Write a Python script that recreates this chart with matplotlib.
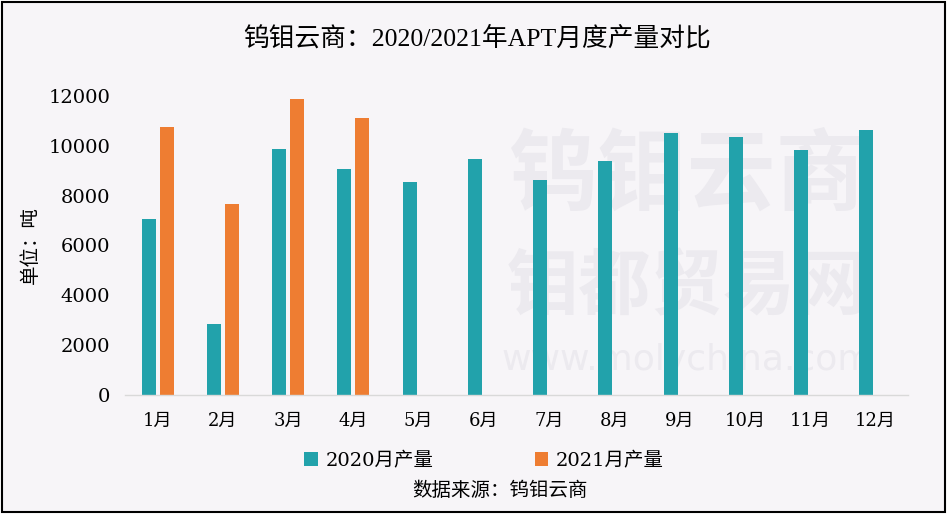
import matplotlib
matplotlib.use("Agg")
import matplotlib.pyplot as plt
import numpy as np
from matplotlib.patches import Rectangle

months = ["1月", "2月", "3月", "4月", "5月", "6月", "7月", "8月", "9月", "10月", "11月", "12月"]
prod_2020 = [7060, 2850, 9870, 9070, 8550, 9470, 8630, 9390, 10510, 10350, 9830, 10630]
prod_2021 = [10750, 7660, 11880, 11110]
yticks = [0, 2000, 4000, 6000, 8000, 10000, 12000]
title = "钨钼云商：2020/2021年APT月度产量对比"
ylabel = "单位：吨"
legend_labels = ["2020月产量", "2021月产量"]
source = "数据来源：钨钼云商"

TEAL = "#22A2AB"
ORANGE = "#EE7D32"
BG = "#F7F5F8"
SERIF = ["DejaVu Serif", "Noto Sans CJK SC", "DejaVu Sans"]
TSERIF = ["Liberation Serif", "Noto Sans CJK SC", "DejaVu Sans"]
CJK = ["Noto Sans CJK SC", "DejaVu Sans"]

fig = plt.figure(figsize=(9.47, 5.24), dpi=100)
fig.patch.set_facecolor("white")
# background panel with black border
bgrect = Rectangle((2/947, 1 - 512/524), 943/947, 510/524, transform=fig.transFigure,
                   facecolor=BG, edgecolor="black", linewidth=1.5, zorder=-10)
fig.patches.append(bgrect)

ax = fig.add_axes([125/947, 1 - 395/524, (908 - 125)/947, (395 - 96)/524])
ax.set_facecolor("none")
ax.set_zorder(1)

# watermark (inside the axes, behind the bars)
wm_color = "#ECEAEF"
ax.text(687/947, 1 - 178/524, "钨钼云商", ha="center", va="center", fontsize=64,
        family=CJK, fontweight="bold", color=wm_color, zorder=0.5,
        transform=fig.transFigure, clip_on=False)
ax.text(687/947, 1 - 288/524, "钼都贸易网", ha="center", va="center", fontsize=52,
        family=CJK, fontweight="bold", color=wm_color, zorder=0.5,
        transform=fig.transFigure, clip_on=False)
ax.text(687/947, 1 - 360/524, "www.molychina.com", ha="center", va="center", fontsize=26,
        family=["DejaVu Sans"], color=wm_color, zorder=0.5,
        transform=fig.transFigure, clip_on=False)

x = np.arange(len(months))
w = 0.215
off = 0.138
ax.bar(x - off, prod_2020, width=w, color=TEAL, label=legend_labels[0], zorder=2)
ax.bar(x[:len(prod_2021)] + off, prod_2021, width=w, color=ORANGE, label=legend_labels[1], zorder=2)

ax.set_xlim(-0.5, len(months) - 0.5)
ax.set_ylim(0, 12000)
ax.set_yticks(yticks)
ax.set_yticklabels([str(v) for v in yticks], family=SERIF, fontsize=14)
ax.set_xticks(x)
ax.set_xticklabels(months, family=SERIF, fontsize=13)
ax.tick_params(axis="both", length=0)
ax.tick_params(axis="y", pad=10.5)
ax.tick_params(axis="x", pad=12)
for s in ["top", "right", "left"]:
    ax.spines[s].set_visible(False)
ax.spines["bottom"].set_color("#D9D9D9")
ax.spines["bottom"].set_linewidth(1)

fig.text(477/947, 1 - 38/524, title, ha="center", va="center", fontsize=18.5, family=TSERIF)
fig.text(30/947, 1 - 245/524, ylabel, ha="center", va="center", rotation=90, fontsize=14, family=CJK)

leg = fig.legend(loc="center", bbox_to_anchor=(484/947, 1 - 461/524), ncol=2, frameon=False,
                 prop={"family": SERIF, "size": 14}, handlelength=0.7, handleheight=0.7,
                 columnspacing=5.2, handletextpad=0.4)
fig.text(500/947, 1 - 491/524, source, ha="center", va="center", fontsize=14, family=CJK)

fig.savefig("out.png", dpi=100)
